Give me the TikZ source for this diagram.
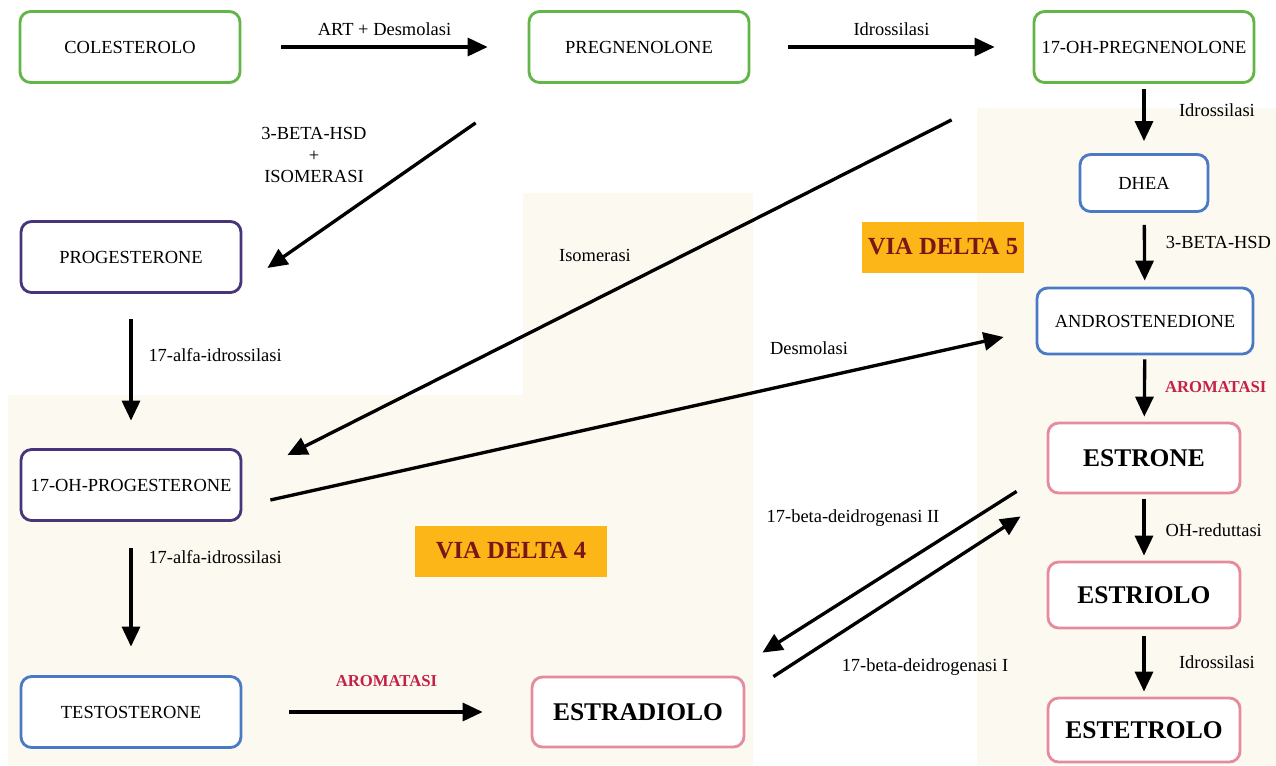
\documentclass[tikz,border=0pt]{standalone}
\usepackage{fontspec}
\setmainfont{Liberation Serif}
\usepackage{xcolor}
\usepackage{tikz}
\usetikzlibrary{arrows.meta, positioning, calc}

\definecolor{cream}{RGB}{252,250,240}
\definecolor{grnline}{RGB}{98,182,72}
\definecolor{purpline}{RGB}{72,52,122}
\definecolor{bluline}{RGB}{74,122,196}
\definecolor{pinkline}{RGB}{228,140,158}
\definecolor{viaorange}{RGB}{252,182,24}
\definecolor{viared}{RGB}{122,22,24}
\definecolor{aromred}{RGB}{196,32,72}

\begin{document}
\begin{tikzpicture}[x=0.02cm, y=-0.02cm,
    box/.style={rectangle, draw, fill=white, line width=1.6pt, rounded corners=6pt, align=center, font=\fontsize{10.5}{12}\selectfont, minimum width=4.4cm, minimum height=1.42cm},
    grnbox/.style={box, draw=grnline},
    purbox/.style={box, draw=purpline},
    blubox/.style={box, draw=bluline},
    estbox/.style={box, draw=pinkline, font=\fontsize{14.5}{16}\selectfont\bfseries, minimum width=3.84cm, minimum height=1.4cm},
    viabox/.style={rectangle, fill=viaorange, text=viared, font=\fontsize{14}{16}\selectfont\bfseries, minimum height=1.02cm},
    lbl/.style={font=\fontsize{10.5}{12.5}\selectfont, align=center},
    aromlbl/.style={font=\fontsize{9.5}{11}\selectfont\bfseries, text=aromred},
    arrow/.style={-{Triangle[length=4mm, width=3.6mm]}, line width=1.9pt, draw=black}
]
\useasboundingbox (0,0) rectangle (1276,765);

% Background areas (delta 4 and delta 5 pathways)
\fill[cream] (8,395) rectangle (753,765);
\fill[cream] (523,193) rectangle (753,397);
\fill[cream] (977,108) rectangle (1276,765);

% Top Row: precursors
\node[grnbox] (chol) at (130,47) {COLESTEROLO};
\node[grnbox] (preg) at (639,47) {PREGNENOLONE};
\node[grnbox] (ohpreg) at (1144,47) {17-OH-PREGNENOLONE};

% Left Column: delta 4
\node[purbox] (prog) at (131,257) {PROGESTERONE};
\node[purbox] (ohprog) at (131,485) {17-OH-PROGESTERONE};
\node[blubox] (testo) at (131,712) {TESTOSTERONE};
\node[estbox, minimum width=4.24cm] (estradiolo) at (638,712) {ESTRADIOLO};

% Right Column: delta 5 and estrogens
\node[blubox, minimum width=2.56cm, minimum height=1.14cm] (dhea) at (1144,183) {DHEA};
\node[blubox, minimum width=4.32cm, minimum height=1.32cm] (andro) at (1145,321) {ANDROSTENEDIONE};
\node[estbox] (estrone) at (1144,458) {ESTRONE};
\node[estbox, minimum height=1.32cm] (estriolo) at (1144,595) {ESTRIOLO};
\node[estbox, minimum height=1.28cm] (estetrolo) at (1144,730) {ESTETROLO};

% Pathway tags
\node[viabox, minimum width=3.26cm] (delta5) at (943,247) {VIA DELTA 5};
\node[viabox, minimum width=3.84cm] (delta4) at (511,551) {VIA DELTA 4};

% Arrows Top Row
\draw[arrow, shorten <=0.8cm, shorten >=0.8cm] (chol) -- node[lbl, above=2pt] (artlbl) {ART + Desmolasi} (preg);
\draw[arrow, shorten <=0.76cm, shorten >=0.76cm] (preg) -- node[lbl, above=2pt] (idrlbl1) {Idrossilasi} (ohpreg);

% Arrows Right Column
\draw[arrow, shorten <=0.1cm, shorten >=0.24cm] (ohpreg) -- node[lbl, pos=0.38, right=0.55cm] (idrlbl2) {Idrossilasi} (dhea);
\draw[arrow, shorten <=0.24cm, shorten >=0.12cm] (dhea) -- node[lbl, pos=0.4, right=0.28cm] (hsdlbl2) {3-BETA-HSD} (andro);
\draw[arrow, shorten <=0.08cm, shorten >=0.1cm] (andro) -- node[aromlbl, pos=0.48, right=0.26cm] (aromlbl1) {AROMATASI} (estrone);
\draw[arrow, shorten <=0.1cm, shorten >=0.1cm] (estrone) -- node[lbl, pos=0.54, right=0.28cm] (redlbl) {OH-reduttasi} (estriolo);
\draw[arrow, shorten <=0.14cm, shorten >=0.1cm] (estriolo) -- node[lbl, pos=0.49, right=0.55cm] (idrlbl3) {Idrossilasi} (estetrolo);

% Arrows Left Column
\draw[arrow, shorten <=0.51cm, shorten >=0.55cm] (prog) -- node[lbl, pos=0.4, right=0.2cm] (alfalbl1) {17-alfa-idrossilasi} (ohprog);
\draw[arrow, shorten <=0.53cm, shorten >=0.57cm] (ohprog) -- node[lbl, pos=0.23, right=0.2cm] (alfalbl2) {17-alfa-idrossilasi} (testo);
\draw[arrow, shorten <=0.94cm, shorten >=0.96cm] (testo) -- node[aromlbl, above=0.35cm] (aromlbl2) {AROMATASI} (estradiolo);

% Diagonal arrows
\draw[arrow] ([shift={(-52,39)}]preg.south west) -- ([shift={(25,11)}]prog.east);
\node[lbl] (hsdlbl1) at (314,155) {3-BETA-HSD\\+\\ISOMERASI};

\draw[arrow] ([shift={(-81,36)}]ohpreg.south west) -- ([shift={(45,7)}]ohprog.north east);
\node[lbl] (isolbl) at (595,255) {Isomerasi};

\draw[arrow] ([shift={(28,15)}]ohprog.east) -- ([shift={(-32,16)}]andro.west);
\node[lbl] (desmlbl) at (809,348) {Desmolasi};

% Estrone <-> Estradiolo
\draw[arrow] ([shift={(-30,-3)}]estrone.south west) -- ([shift={(17,-23)}]estradiolo.north east);
\draw[arrow] ([shift={(28,1)}]estradiolo.north east) -- ([shift={(-26,22)}]estrone.south west);
\node[lbl] (hsdIIlbl) at (853,518) {17-beta-deidrogenasi II};
\node[lbl] (hsdIlbl) at (925,667) {17-beta-deidrogenasi I};

\end{tikzpicture}
\end{document}
